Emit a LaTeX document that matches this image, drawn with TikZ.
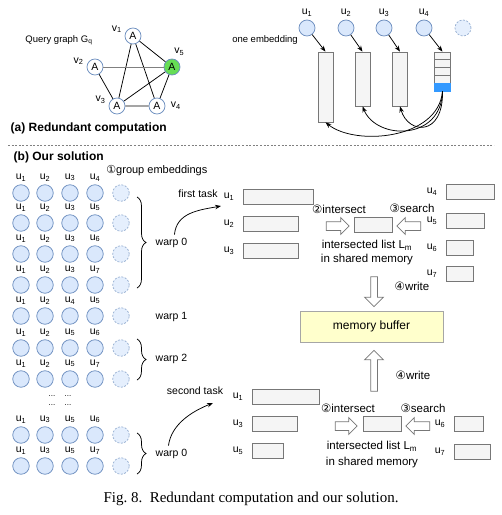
\documentclass[tikz,border=0pt]{standalone}
\usepackage{fontspec}
\setmainfont{Liberation Sans}
\newfontfamily\capfont{Liberation Serif}
\newfontfamily\circfont{DejaVu Sans}
\usetikzlibrary{arrows.meta, positioning, shapes.arrows, decorations.pathreplacing}
\definecolor{bluefill}{HTML}{DAE8FC}
\definecolor{blueedge}{HTML}{6C8EBF}
\definecolor{boxfill}{HTML}{F5F5F5}
\definecolor{boxedge}{HTML}{777777}
\definecolor{cellblue}{HTML}{3399FF}
\definecolor{nodegreen}{HTML}{66DD55}
\definecolor{bufffill}{HTML}{FFFFCC}
\newcommand{\fs}[1]{\fontsize{#1}{#1}\selectfont}
\newcommand{\cn}[1]{{\circfont #1}}
\tikzset{
    ucirc/.style={circle, draw=blueedge, fill=bluefill, minimum size=16.5pt, inner sep=0pt}, % embedding vertex
    ghost/.style={ucirc, dashed, dash pattern=on 2pt off 1.5pt, draw=blueedge!70, fill=bluefill!70}, % empty slot
    qnode/.style={circle, draw=blueedge, fill=white, minimum size=16pt, inner sep=0pt, font=\fs{10.5}},
    ulbl/.style={font=\fs{10.5}, inner sep=0pt, label distance=3pt},
    vlbl/.style={font=\fs{10.5}, inner sep=0pt, label distance=3pt},
    listbox/.style={draw=boxedge, fill=boxfill, minimum height=15pt, inner sep=0pt},
    cell/.style={draw=boxedge, fill=boxfill, minimum width=16.5pt, minimum height=7.75pt, inner sep=0pt},
    hollow/.style={single arrow, draw=boxedge, fill=white, inner xsep=0pt, inner ysep=4pt, single arrow head extend=4pt},
    brc/.style={decorate, decoration={brace, amplitude=9pt}},
    arr/.style={-{Stealth[length=6pt, width=4.5pt]}},
    txt/.style={font=\fs{11.5}, inner sep=0pt}
}
\begin{document}
\begin{tikzpicture}[x=1pt, y=-1pt, line width=0.75pt, font=\fs{10.5}]
    \useasboundingbox (0,0) rectangle (502,515);

    % (a) query graph
    \node[font=\fs{9.5}] (qlbl) at (59,40) {Query graph G\textsubscript{q}};
    \node[qnode, label={[vlbl]165:v\textsubscript{1}}] (v1) at (133,36) {A};
    \node[qnode, label={[vlbl]170:v\textsubscript{2}}] (v2) at (95,67) {A};
    \node[qnode, fill=nodegreen, label={[vlbl]80:v\textsubscript{5}}] (v5) at (172,67) {A};
    \node[qnode, label={[vlbl]170:v\textsubscript{3}}] (v3) at (117,106) {A};
    \node[qnode, label={[vlbl, label distance=5pt]0:v\textsubscript{4}}] (v4) at (157,106) {A};
    \draw (v1) -- (v5) (v1) -- (v3) (v1) -- (v4) (v2) -- (v3) (v3) -- (v5)
          (v3) -- (v4) (v4) -- (v5);
    \draw[gray, line width=1pt] (v2) -- (v5);

    % (a) one embedding and its lists
    \node[font=\fs{9.5}] (emb) at (265,40) {one embedding};
    \foreach \x [count=\i] in {307,346,384,424}
        \node[ucirc, minimum size=16pt, label={[ulbl]90:u\textsubscript{\i}}] (t\i) at (\x,28) {};
    \node[ghost, minimum size=16pt] (t5) at (463,28) {};
    \node[listbox, minimum width=15pt, minimum height=70pt] (r1) at (325.5,87) {};
    \node[listbox, minimum width=15pt, minimum height=54pt] (r2) at (362.5,79) {};
    \node[listbox, minimum width=15pt, minimum height=54pt] (r3) at (400,79) {};
    \foreach \i in {1,...,4}
        \node[cell] (c\i) at (442.5,{52+7.75*(\i-0.5)}) {};
    \node[cell, fill=cellblue, draw=cellblue] (c5) at (442.5,87) {};
    \draw[arr] (t1) -- (r1.north);
    \draw[arr] (t2) -- (r2.north);
    \draw[arr] (t3) -- (r3.north);
    \draw[arr] (t4) -- (c1.north);
    \draw[arr] (c5.south) .. controls +(-4,48) and +(30,24) .. (r1.south);
    \draw[arr] (c5.south) .. controls +(-1,50) and +(14,34) .. (r2.south);
    \draw[arr] (c5.south) .. controls +(1,46) and +(8,28) .. (r3.south);

    \node[anchor=west, font=\bfseries\fs{12}] (ta) at (7,128) {(a) Redundant computation};
    \draw[gray, line width=0.8pt, dash pattern=on 2pt off 1.6pt] (8,145) -- (494,145);

    % (b) grouped embeddings
    \node[anchor=west, font=\bfseries\fs{12}] (tb) at (10,157) {(b) Our solution};
    \node[anchor=west, txt, font=\fs{11}] (grp) at (106,171) {\cn{①}group embeddings};
    \foreach \y/\a/\b/\c/\d [count=\r] in {193/1/2/3/4, 223/1/2/3/5, 254/1/2/3/6, 285/1/2/3/7,
            316/1/2/4/5, 348/1/2/5/6, 379/1/2/5/7, 435/1/3/5/6, 466/1/3/5/7} {
        \foreach \x/\u [count=\k] in {21/\a, 45/\b, 70/\c, 95/\d}
            \node[ucirc, label={[ulbl]90:u\textsubscript{\u}}] (e\r-\k) at (\x,\y) {};
        \node[ghost] (e\r-5) at (121,\y) {};
    }
    \foreach \x/\y [count=\i] in {52/396, 68/396, 52/405, 68/405}
        \node[font=\fs{8}, inner sep=0pt] (dt\i) at (\x,\y) {...};

    % warps
    \coordinate (w0a) at (137,197);
    \coordinate (w0b) at (137,288);
    \coordinate (w2a) at (137,339);
    \coordinate (w2b) at (137,380);
    \coordinate (w3a) at (137,433);
    \coordinate (w3b) at (137,474);
    \draw[brc] (w0a) -- (w0b);
    \draw[brc] (w2a) -- (w2b);
    \draw[brc] (w3a) -- (w3b);
    \node[anchor=west] (w0lbl) at (152,243) {warp 0};
    \node[anchor=west] (w1lbl) at (152,317) {warp 1};
    \node[anchor=west] (w2lbl) at (152,359) {warp 2};
    \node[anchor=west] (w3lbl) at (152,454) {warp 0};

    % first task
    \node (ftl) at (198,194) {first task};
    \coordinate (ft) at (221,206);
    \draw[arr] ([xshift=3pt]w0lbl.north) .. controls +(2,-22) and +(-22,4) .. (ft);
    \node[listbox, minimum width=70pt] (fu1) at (278,196.5) {};
    \node[listbox, minimum width=55pt] (fu2) at (270.5,223.5) {};
    \node[listbox, minimum width=55pt] (fu3) at (270.5,250.5) {};
    \node[listbox, minimum width=48pt] (fu4) at (470,191.5) {};
    \node[listbox, minimum width=38pt] (fu5) at (465,220.5) {};
    \node[listbox, minimum width=27pt] (fu6) at (459.5,247.5) {};
    \node[listbox, minimum width=27pt] (fu7) at (459.5,273.5) {};
    \foreach \i in {1,...,7}
        \node[left=8pt of fu\i, inner sep=0pt] (fl\i) {u\textsubscript{\i}};
    \node[listbox, minimum width=38pt] (lm1) at (373,224.5) {};
    \node[hollow, minimum height=23pt] (isec1) at (335.5,226) {};
    \node[hollow, minimum height=24pt, shape border rotate=180] (srch1) at (411,226) {};
    \node[txt] (isl1) at (339,209) {\cn{②}intersect};
    \node[txt] (srl1) at (412,208.5) {\cn{③}search};
    \node[txt] (lml1) at (367,245) {intersected list L\textsubscript{m}};
    \node[txt] (shm1) at (367,260) {in shared memory};

    % memory buffer
    \node[draw=gray!70, fill=bufffill, minimum width=143pt, minimum height=31pt, font=\fs{12}] (buf) at (371.5,326.5) {memory buffer};
    \node[hollow, minimum height=30pt, inner xsep=3pt, inner ysep=0pt, single arrow head extend=6pt, shape border rotate=270] (wr1) at (374,290) {};
    \node[hollow, minimum height=41pt, inner xsep=3pt, inner ysep=0pt, single arrow head extend=6pt, shape border rotate=90] (wr2) at (374,372.5) {};
    \node[txt] (wl1) at (412,286) {\cn{④}write};
    \node[txt] (wl2) at (413,375) {\cn{④}write};

    % second task
    \node (stl) at (195,391) {second task};
    \coordinate (st) at (213,403);
    \draw[arr] ([xshift=-3pt]w3lbl.north) .. controls +(3,-22) and +(-20,8) .. (st);
    \node[listbox, minimum width=67pt] (su1) at (285.5,397) {};
    \node[listbox, minimum width=45pt] (su3) at (274.5,424) {};
    \node[listbox, minimum width=31pt] (su5) at (267.5,451) {};
    \node[listbox, minimum width=29pt] (su6) at (468.5,423.5) {};
    \node[listbox, minimum width=36pt] (su7) at (472,452) {};
    \foreach \i in {1,3,5,6,7}
        \node[left=8pt of su\i, inner sep=0pt] (sl\i) {u\textsubscript{\i}};
    \node[listbox, minimum width=38pt] (lm2) at (382,424) {};
    \node[hollow, minimum height=22pt] (isec2) at (344,426) {};
    \node[hollow, minimum height=24pt, shape border rotate=180] (srch2) at (420,426) {};
    \node[txt] (isl2) at (348,408) {\cn{②}intersect};
    \node[txt] (srl2) at (423,408) {\cn{③}search};
    \node[txt] (lml2) at (372,446) {intersected list L\textsubscript{m}};
    \node[txt] (shm2) at (372,463) {in shared memory};

    % caption
    \node[font=\capfont\fs{15}] (cap) at (251,499) {Fig.~8.\enskip Redundant computation and our solution.};
\end{tikzpicture}
\end{document}
